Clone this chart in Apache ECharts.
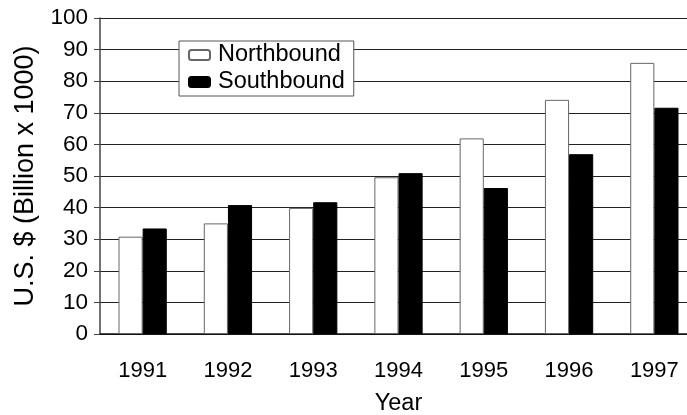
<!DOCTYPE html>
<html>
<head>
    <meta charset="utf-8">
    <title>Northbound / Southbound</title>
    <script src="https://cdn.jsdelivr.net/npm/echarts@6/dist/echarts.min.js"></script>
    <style>
        html, body { margin: 0; padding: 0; background: #fff; }
        #chart { width: 687px; height: 415px; }
    </style>
</head>
<body>
    <div id="chart"></div>
    <script>
        var years = ['1991', '1992', '1993', '1994', '1995', '1996', '1997'];
        var northbound = [30.8, 35.0, 39.9, 49.6, 61.9, 74.1, 85.8];
        var southbound = [33.4, 40.8, 41.7, 50.9, 46.2, 56.9, 71.6];

        var font = 'Liberation Sans, Arial, sans-serif';
        var myChart = echarts.init(document.getElementById('chart'));
        var option = {
            animation: false,
            // plot runs past the right edge, like the original
            grid: { left: 100, top: 18, bottom: 81, width: 597, outerBoundsMode: 'none', containLabel: false },
            legend: {
                orient: 'vertical',
                left: 179,
                top: 41,
                padding: [2, 9, 2, 9],
                itemGap: 3,
                itemWidth: 21,
                itemHeight: 10,
                backgroundColor: '#fff',
                borderColor: '#555',
                borderWidth: 1,
                textStyle: { fontFamily: font, fontSize: 23.5, lineHeight: 24, color: '#000', padding: [0, 0, 0, 3] },
                data: ['Northbound', 'Southbound']
            },
            xAxis: {
                type: 'category',
                data: years,
                name: 'Year',
                nameLocation: 'middle',
                nameGap: 58,
                nameTextStyle: { fontFamily: font, fontSize: 23.5, color: '#000' },
                axisLine: { lineStyle: { color: '#111', width: 1.5 } },
                axisTick: { length: 8, lineStyle: { color: '#222' } },
                axisLabel: { fontFamily: font, fontSize: 22, color: '#000', margin: 26 }
            },
            yAxis: {
                type: 'value',
                min: 0,
                max: 100,
                interval: 10,
                name: 'U.S. $ (Billion x 1000)',
                nameLocation: 'middle',
                nameGap: 61,
                nameTextStyle: { fontFamily: font, fontSize: 27, color: '#000' },
                axisLine: { show: true, lineStyle: { color: '#444', width: 1.5 } },
                axisTick: { show: true, length: 6, lineStyle: { color: '#444' } },
                axisLabel: { fontFamily: font, fontSize: 22.5, color: '#000', margin: 12 },
                splitLine: { lineStyle: { color: '#222', width: 1 } }
            },
            series: [{
                name: 'Northbound',
                type: 'bar',
                data: northbound,
                barWidth: '28.3%',
                barGap: '0%',
                itemStyle: { color: '#fff', borderColor: '#666', borderWidth: 1 }
            }, {
                name: 'Southbound',
                type: 'bar',
                data: southbound,
                barWidth: '28.3%',
                itemStyle: { color: '#000', borderColor: '#000', borderWidth: 1 }
            }]
        };
        myChart.setOption(option);
    </script>
</body>
</html>
